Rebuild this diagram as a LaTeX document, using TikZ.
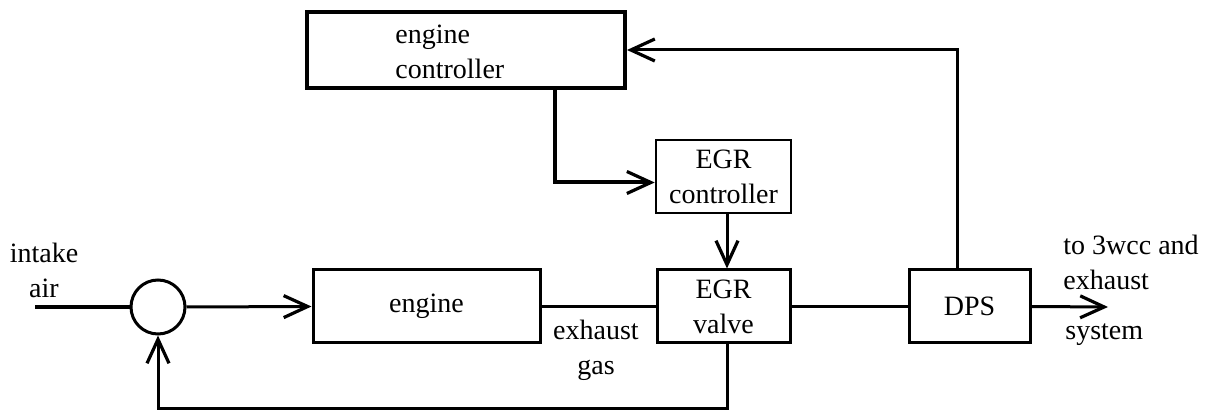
\documentclass[tikz,border=0pt]{standalone}
\usepackage{fontspec}
\setmainfont{Liberation Serif}
\usetikzlibrary{arrows.meta,calc}
\begin{document}
\begin{tikzpicture}[x=0.5pt,y=-0.5pt,
  font=\fontsize{14}{17.5}\selectfont,
  blk/.style={draw,line width=1.5pt,inner sep=0pt,align=center},
  wire/.style={line width=1.5pt},
  heavy/.style={line width=2pt},
  arr/.style={-{Straight Barb[length=12pt,width=11pt,line width=1.6pt]}},
  lbl/.style={inner sep=0pt}]
\useasboundingbox (0,0) rectangle (1217,411);
% blocks
\node[blk,line width=2pt,minimum width=159pt,minimum height=38pt] (ec) at (466,50) {};
\node[lbl,anchor=west,align=left] (ectext) at (395,52) {engine\\controller};
\node[blk,line width=1.3pt,minimum width=67.5pt,minimum height=36.5pt] (egrc) at (723.5,176.5) {EGR\\controller};
\node[blk,minimum width=66.5pt,minimum height=36.5pt] (egrv) at (723.5,306.5) {EGR\\valve};
\node[blk,minimum width=113.5pt,minimum height=36.5pt] (eng) at (426.5,306.5) {engine};
\node[blk,minimum width=60.5pt,minimum height=36.5pt] (dps) at (969.5,306.5) {DPS};
\node[draw,circle,line width=1.5pt,minimum size=27pt,inner sep=0pt] (sum) at (158,307) {};
% coordinates
\coordinate (inl) at (35,307);
\coordinate (outr) at (1108,307);
\coordinate (fbx) at (957,51);
\coordinate (ecx) at (555,88);
\coordinate (vx) at (727,0);
% labels
\node[lbl,align=center] (intake) at (44,270) {intake\\air};
\node[lbl,align=center] (exh) at (596,350) {exhaust\\gas};
\node[lbl,anchor=west,align=left] (to3) at (1063,262) {to 3wcc and\\exhaust};
\node[lbl,anchor=west] (sys) at (1065,335) {system};
% connectors
\draw[heavy] (inl) -- (sum.west);
\draw[wire,arr] (sum.east) -- (eng.west);
\draw[wire] (eng.east) -- (egrv.west);
\draw[wire] (egrv.east) -- (dps.west);
\draw[wire,arr] (dps.east) -- (outr);
\draw[wire,arr] (dps.north -| fbx) |- (ec.east);
\draw[heavy,arr] (ec.south -| ecx) |- ($(egrc.west)+(0,6)$);
\draw[wire,arr] (egrc.south -| vx) -- (egrv.north -| vx);
\draw[wire,arr] (egrv.south -| vx) -- ++(0,64) -| (sum.south);
\end{tikzpicture}
\end{document}
